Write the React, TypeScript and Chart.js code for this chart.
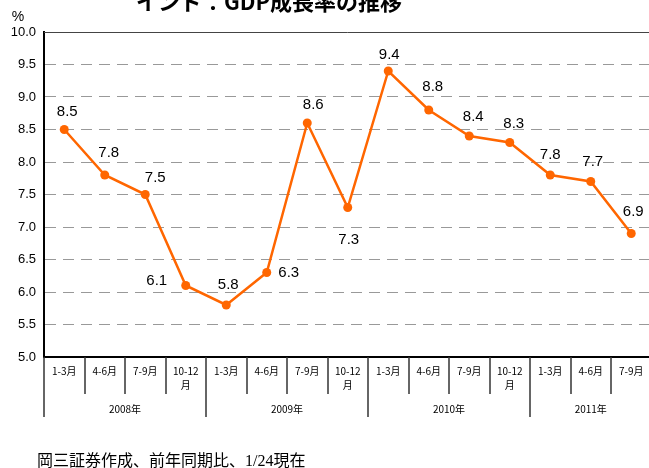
import React, { useEffect, useRef } from 'react';
import { Chart, registerables } from 'chart.js';

Chart.register(...registerables);

// ---- data ----
const quarterLabels = [
  '1-3月', '4-6月', '7-9月', '10-12月',
  '1-3月', '4-6月', '7-9月', '10-12月',
  '1-3月', '4-6月', '7-9月', '10-12月',
  '1-3月', '4-6月', '7-9月',
];
const yearLabels = ['2008年', '2009年', '2010年', '2011年'];
const yearQuarterCounts = [4, 4, 4, 3];
const gdpGrowth = [8.5, 7.8, 7.5, 6.1, 5.8, 6.3, 8.6, 7.3, 9.4, 8.8, 8.4, 8.3, 7.8, 7.7, 6.9];
const yMin = 5.0;
const yMax = 10.0;
const yStep = 0.5;
const titleText = 'インド：GDP成長率の推移';
const unitText = '%';
const noteText = '岡三証券作成、前年同期比、1/24現在';

// label placement (offsets from each point, px)
const labelDx = [3, 4, 10, -29, 2, 22, 6, 1, 1, 4, 4, 4, 0, 2, 2];
const labelDy = [-18, -22, -17, -5, -20, 0, -18, 32, -16, -23, -19, -19, -20, -20, -22];

const W = 656;
const H = 468;
const ORANGE = '#FF6600';
const JP = '"Noto Sans CJK JP", "Noto Sans", sans-serif';
const LATIN = '"Liberation Sans", Arial, sans-serif';
const NOTE_FONT = '"Liberation Serif", "Noto Sans CJK JP", serif';

const overlayPlugin = {
  id: 'overlay',
  afterDraw(chart: any) {
    const { ctx, chartArea } = chart;
    const xs = chart.scales.x;
    const { left, right, top, bottom } = chartArea;
    const n = quarterLabels.length;
    const cw = (right - left) / n;

    ctx.save();
    // top border
    ctx.strokeStyle = '#444';
    ctx.lineWidth = 1;
    ctx.beginPath();
    ctx.moveTo(left, top + 0.5);
    ctx.lineTo(right, top + 0.5);
    ctx.stroke();

    // title
    ctx.fillStyle = '#000';
    ctx.font = `bold 22px ${JP}`;
    ctx.textAlign = 'center';
    ctx.textBaseline = 'alphabetic';
    ctx.fillText(titleText, 269, 10);

    // unit
    ctx.font = `14px ${LATIN}`;
    ctx.fillText(unitText, 18, 21);

    // data labels
    const meta = chart.getDatasetMeta(0);
    ctx.font = `15px ${LATIN}`;
    ctx.textBaseline = 'middle';
    meta.data.forEach((pt: any, i: number) => {
      ctx.fillText(gdpGrowth[i].toFixed(1), pt.x + labelDx[i], pt.y + labelDy[i]);
    });

    // x-axis category boxes
    const yearStarts: number[] = [];
    let acc = 0;
    yearQuarterCounts.forEach((c) => { yearStarts.push(acc); acc += c; });
    ctx.strokeStyle = '#333';
    ctx.lineWidth = 1.5;
    for (let i = 1; i < n; i++) {
      const x = Math.round(left + i * cw);
      const long = yearStarts.includes(i);
      ctx.beginPath();
      ctx.moveTo(x, bottom);
      ctx.lineTo(x, bottom + (long ? 60 : 37));
      ctx.stroke();
    }
    ctx.beginPath();
    ctx.moveTo(left, bottom);
    ctx.lineTo(left, bottom + 60);
    ctx.stroke();

    ctx.fillStyle = '#000';
    ctx.font = `10px ${JP}`;
    ctx.textBaseline = 'middle';
    quarterLabels.forEach((lab, i) => {
      const cx = xs.getPixelForValue(i);
      if (lab.length > 4) {
        ctx.fillText(lab.slice(0, -1), cx, bottom + 14);
        ctx.fillText(lab.slice(-1), cx, bottom + 28);
      } else {
        ctx.fillText(lab, cx, bottom + 14);
      }
    });
    yearLabels.forEach((lab, j) => {
      const s = yearStarts[j];
      const e = s + yearQuarterCounts[j];
      const cx = left + ((s + e) / 2) * cw;
      ctx.fillText(lab, cx, bottom + 52);
    });

    // note
    ctx.textAlign = 'left';
    ctx.font = `16px ${NOTE_FONT}`;
    ctx.fillText(noteText, 37, 462);
    ctx.restore();
  },
};

export default function App() {
  const ref = useRef<HTMLCanvasElement>(null);
  useEffect(() => {
    if (!ref.current) return;
    const chart = new Chart(ref.current, {
      type: 'line',
      data: {
        labels: quarterLabels,
        datasets: [
          {
            data: gdpGrowth,
            borderColor: ORANGE,
            backgroundColor: ORANGE,
            borderWidth: 2.5,
            pointRadius: 4.5,
            pointBackgroundColor: ORANGE,
            pointBorderWidth: 0,
            tension: 0,
          },
        ],
      },
      options: {
        responsive: false,
        animation: false,
        devicePixelRatio: 1,
        layout: { padding: { top: 32, left: 0, right: 0, bottom: 0 } },
        plugins: { legend: { display: false }, tooltip: { enabled: false }, title: { display: false } },
        scales: {
          x: {
            type: 'category',
            offset: true,
            ticks: { display: false },
            grid: { display: false },
            border: { display: true, color: '#000', width: 2 },
            afterFit: (s: any) => { s.height = H - 357; },
          },
          y: {
            min: yMin,
            max: yMax,
            ticks: {
              stepSize: yStep,
              callback: (v: any) => Number(v).toFixed(1),
              font: { size: 13, family: LATIN },
              color: '#000',
              padding: 8,
            },
            grid: {
              drawTicks: false,
              color: (c: any) => (c.tick && (c.tick.value === yMin || c.tick.value === yMax) ? 'rgba(0,0,0,0)' : '#999'),
              lineWidth: 1,
            },
            border: { display: true, color: '#000', width: 2, dash: [11, 7] },
            afterFit: (s: any) => { s.width = 44; },
          },
        },
      },
      plugins: [overlayPlugin],
    });
    return () => chart.destroy();
  }, []);
  return (
    <div style={{ position: 'fixed', left: 0, top: 0, width: 649, height: 468, overflow: 'hidden', background: '#fff' }}>
      <canvas ref={ref} width={W} height={H} style={{ width: W, height: H, display: 'block' }} />
    </div>
  );
}
